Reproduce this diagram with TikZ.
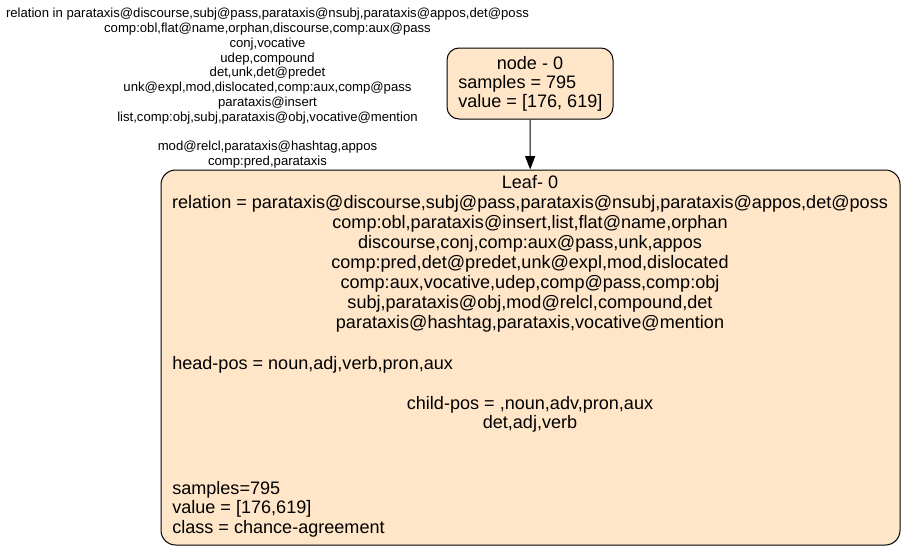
\documentclass[tikz,border=0pt]{standalone}
\usepackage{fontspec}
\setmainfont{Liberation Sans}
\usetikzlibrary{arrows.meta}
\definecolor{boxfill}{HTML}{FFE6C9}
\begin{document}
\begin{tikzpicture}[x=0.75pt,y=-0.75pt,
  topbox/.style={draw=black, fill=boxfill, rounded corners=9pt, line width=0.75pt, inner sep=0pt, minimum width=124.5pt, minimum height=53.25pt},
  leafbox/.style={draw=black, fill=boxfill, rounded corners=11pt, line width=0.75pt, inner sep=0pt, minimum width=554.25pt, minimum height=281.25pt},
  big/.style={font=\fontsize{13.55}{16.3}\selectfont, inner sep=0pt},
  small/.style={font=\fontsize{9.85}{11.1}\selectfont, inner sep=0pt, align=center},
  edge/.style={draw=black, line width=0.75pt, -{Triangle[length=10pt,width=7.5pt]}},
]
\useasboundingbox (0,0) rectangle (905,550);
\node[topbox] (top) at (530,83.5) {};
\node[leafbox] (leaf) at (530.5,357.5) {};
\draw[edge] (top) -- (leaf);
\node[small, anchor=north] (lbl) at (267.5,8) {relation in parataxis@discourse,subj@pass,parataxis@nsubj,parataxis@appos,det@poss\\
comp:obl,flat@name,orphan,discourse,comp:aux@pass\\
conj,vocative\\
udep,compound\\
det,unk,det@predet\\
unk@expl,mod,dislocated,comp:aux,comp@pass\\
parataxis@insert\\
list,comp:obj,subj,parataxis@obj,vocative@mention\\
\mbox{}\\
mod@relcl,parataxis@hashtag,appos\\
comp:pred,parataxis};
% top node text
\node[big, anchor=mid] (t1) at (530,66) {node - 0};
\node[big, anchor=mid west] (t2) at (458,85) {samples = 795};
\node[big, anchor=mid west] (t3) at (458,104) {value = [176, 619]};
% leaf text
\foreach \y/\t [count=\i] in {185/{Leaf- 0},
  205/{relation = parataxis@discourse,subj@pass,parataxis@nsubj,parataxis@appos,det@poss},
  225/{comp:obl,parataxis@insert,list,flat@name,orphan},
  245/{discourse,conj,comp:aux@pass,unk,appos},
  265/{comp:pred,det@predet,unk@expl,mod,dislocated},
  285/{comp:aux,vocative,udep,comp@pass,comp:obj},
  305/{subj,parataxis@obj,mod@relcl,compound,det},
  325/{parataxis@hashtag,parataxis,vocative@mention},
  406/{child-pos = ,noun,adv,pron,aux},
  425/{det,adj,verb}}
  \node[big, anchor=mid] (c\i) at (530,\y) {\t};
\foreach \y/\t [count=\i] in {366/{head-pos = noun,adj,verb,pron,aux},
  491/{samples=795},
  510/{value = [176,619]},
  530/{class = chance-agreement}}
  \node[big, anchor=mid west] (w\i) at (172,\y) {\t};
\end{tikzpicture}
\end{document}
